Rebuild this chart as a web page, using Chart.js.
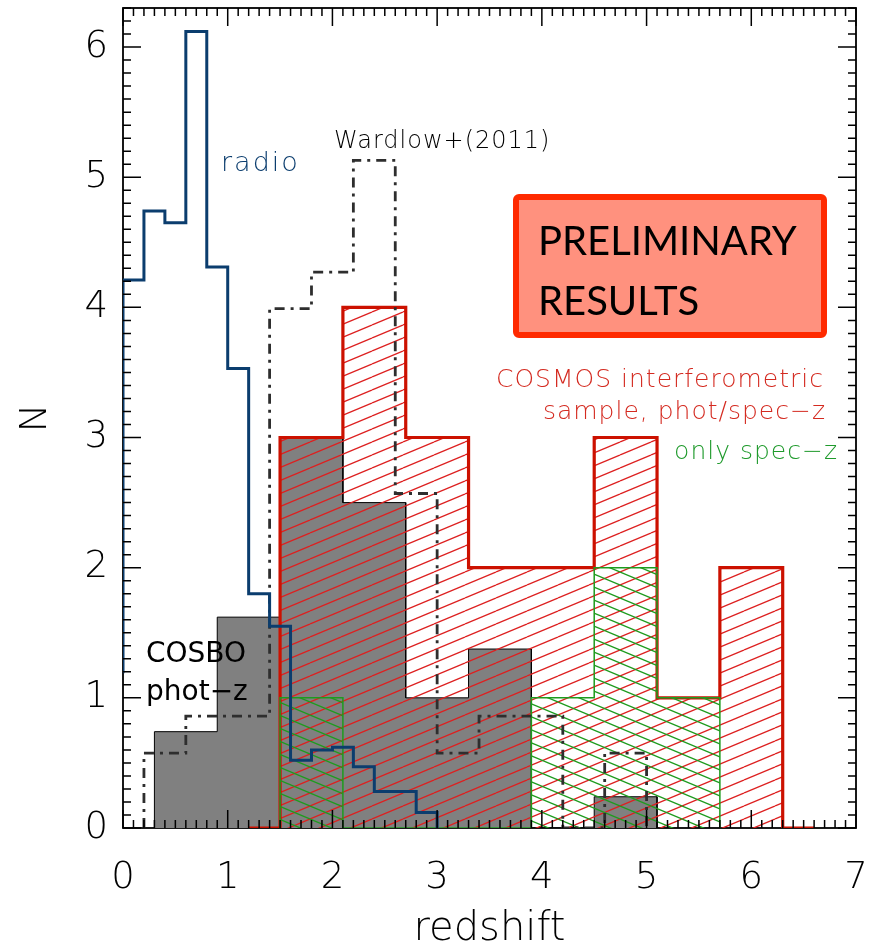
<!DOCTYPE html>
<html><head><meta charset="utf-8">
<script src="https://cdn.jsdelivr.net/npm/chart.js@4/dist/chart.umd.min.js"></script>
<style>html,body{margin:0;padding:0;background:#fff;}#wrap{width:872px;height:945px;position:relative;}</style>
</head><body><div id="wrap"><canvas id="c" width="872" height="945"></canvas></div>
<script>
// ---- data ----
const xTickLabels = ['0','1','2','3','4','5','6','7'];
const yTickLabels = ['0','1','2','3','4','5','6'];

const radioEdges  = [-0.2,0.0,0.2,0.4,0.6,0.8,1.0,1.2,1.4,1.6,1.8,2.0,2.2,2.4,2.6,2.8,3.0];
const radioValues = [1.2,4.21,4.74,4.65,6.12,4.31,3.53,1.80,1.55,0.52,0.60,0.62,0.47,0.28,0.28,0.12];

const wardlowEdges  = [0.2,0.6,1.0,1.4,1.8,2.2,2.6,3.0,3.4,3.8,4.2,4.6,5.0];
const wardlowValues = [0.576,0.86,0.86,3.99,4.27,5.13,2.57,0.576,0.86,0.86,0,0.576];

const cosboEdges  = [0.3,0.9,1.5,2.1,2.7,3.3,3.9,4.5,5.1];
const cosboValues = [0.74,1.62,3.0,2.5,1.0,1.375,0,0.24];

const cosmosEdges  = [1.2,1.5,2.1,2.7,3.3,3.9,4.5,5.1,5.7,6.3,6.6];
const cosmosValues = [0,3,4,3,2,2,3,1,2,0];

const speczEdges  = [1.5,2.1,2.7,3.3,3.9,4.5,5.1,5.7];
const speczValues = [1,0,0,0,1,2,1];

// ---- helpers ----
function stepPoints(edges, values){
  const pts = [{x:edges[0], y:0}];
  for (let i=0;i<values.length;i++){
    pts.push({x:edges[i], y:values[i]});
    pts.push({x:edges[i+1], y:values[i]});
  }
  pts.push({x:edges[edges.length-1], y:0});
  return pts;
}
const mainCtx = document.getElementById('c').getContext('2d');
function hatch(color, dir, lw){
  const W=31, H=13;
  const c=document.createElement('canvas'); c.width=W; c.height=H;
  const g=c.getContext('2d');
  g.strokeStyle=color; g.lineWidth=lw;
  for (const off of [-H,0,H]){
    g.beginPath();
    if (dir>0){ g.moveTo(0,H+off); g.lineTo(W,off); }
    else { g.moveTo(0,off); g.lineTo(W,H+off); }
    g.stroke();
  }
  return mainCtx.createPattern(c,'repeat');
}
const FONT = '"DejaVu Sans", sans-serif';
function noPad(s){ s.paddingLeft=0; s.paddingRight=0; s.paddingTop=0; s.paddingBottom=0; }

const annotations = {
  id:'annotations',
  beforeDatasetsDraw(chart){
    const {ctx, chartArea:a} = chart;
    ctx.save();
    ctx.strokeStyle='#000'; ctx.lineWidth=1.8;
    ctx.strokeRect(a.left,a.top,a.right-a.left,a.bottom-a.top);
    ctx.restore();
  },
  afterDatasetsDraw(chart){
    const {ctx, chartArea:a, scales:{x:xs, y:ys}} = chart;
    ctx.save();
    // ticks on all four sides
    ctx.strokeStyle='#000'; ctx.lineWidth=1.5;
    ctx.beginPath();
    for (let i=0;i<=70;i++){
      const px = xs.getPixelForValue(i/10);
      const len = (i%10===0)?18:8;
      ctx.moveTo(px,a.bottom); ctx.lineTo(px,a.bottom-len);
      ctx.moveTo(px,a.top); ctx.lineTo(px,a.top+len);
    }
    for (let i=0;i<=63;i++){
      const py = ys.getPixelForValue(i/10);
      const len = (i%10===0)?18:8;
      ctx.moveTo(a.left,py); ctx.lineTo(a.left+len,py);
      ctx.moveTo(a.right,py); ctx.lineTo(a.right-len,py);
    }
    ctx.stroke();

    // text labels
    ctx.textBaseline='alphabetic';
    ctx.textAlign='left';
    ctx.letterSpacing='2px';
    ctx.font='300 27px '+FONT; ctx.fillStyle='#0b3d6e';
    ctx.fillText('radio',221,171);
    ctx.letterSpacing='1px';
    ctx.font='200 24px '+FONT; ctx.fillStyle='#000';
    ctx.fillText('Wardlow+(2011)',334,148);
    ctx.font='200 25px '+FONT; ctx.fillStyle='#d42a20';
    ctx.textAlign='right';
    ctx.fillText('COSMOS interferometric',824,387);
    ctx.fillText('sample, phot/spec\u2212z',826,419);
    ctx.fillStyle='#1f9a2c';
    ctx.fillText('only spec\u2212z',838,459);
    ctx.textAlign='left';
    ctx.letterSpacing='0px';
    ctx.font='400 28px '+FONT; ctx.fillStyle='#000';
    ctx.fillText('COSBO',146,662);
    ctx.fillText('phot\u2212z',146,700);

    // PRELIMINARY box
    ctx.lineWidth=6; ctx.strokeStyle='#ff2a00'; ctx.fillStyle='#ff917e';
    ctx.beginPath();
    ctx.roundRect(516,197,308,138,3);
    ctx.fill(); ctx.stroke();
    ctx.fillStyle='#000';
    ctx.font='400 40px Lato, "Noto Sans", sans-serif';
    ctx.fillText('PRELIMINARY',538,255);
    ctx.fillText('RESULTS',538,315);
    ctx.restore();
  }
};

const tickFont = {family:'"DejaVu Sans"', size:37, weight:200};

new Chart(document.getElementById('c'), {
  type:'scatter',
  data:{datasets:[
    {label:'radio', data:stepPoints(radioEdges,radioValues), showLine:true, borderColor:'#0b3d6e', borderWidth:3, pointRadius:0, fill:false, order:1},
    {label:'Wardlow+(2011)', data:stepPoints(wardlowEdges,wardlowValues), showLine:true, borderColor:'#2e2e2e', borderWidth:2.8, borderDash:[10,6,3,6], pointRadius:0, fill:false, order:2},
    {label:'only spec-z', data:stepPoints(speczEdges,speczValues), showLine:true, borderColor:'#1e9b1e', borderWidth:1.5, pointRadius:0, fill:'origin', backgroundColor:hatch('#1e9b1e',-1,1.3), order:3},
    {label:'COSMOS interferometric', data:stepPoints(cosmosEdges,cosmosValues), showLine:true, borderColor:'#cc1100', borderWidth:3.2, pointRadius:0, fill:'origin', backgroundColor:hatch('#dd2020',1,1.3), order:4},
    {label:'COSBO phot-z', data:stepPoints(cosboEdges,cosboValues), showLine:true, borderColor:'#000', borderWidth:1, pointRadius:0, fill:'origin', backgroundColor:'#808080', order:5}
  ]},
  options:{
    responsive:false, animation:false, devicePixelRatio:1,
    layout:{padding:{left:0,right:16,top:8,bottom:0}},
    plugins:{legend:{display:false}, tooltip:{enabled:false}},
    elements:{line:{tension:0, borderJoinStyle:'miter', borderCapStyle:'butt'}},
    scales:{
      x:{type:'linear', min:0, max:7,
         afterFit(s){ s.height=117; noPad(s); },
         grid:{display:false, drawTicks:false}, border:{display:false},
         ticks:{stepSize:1, includeBounds:false, padding:28, color:'#000', font:tickFont, maxRotation:0,
                callback:(v)=>xTickLabels[Math.round(v)]},
         title:{display:true, text:'redshift', color:'#000', font:{family:'"DejaVu Sans"', size:40, weight:200, lineHeight:0.5}, padding:{top:0,bottom:5}}},
      y:{type:'linear', min:0, max:6.3,
         afterFit(s){ s.width=123; noPad(s); },
         grid:{display:false, drawTicks:false}, border:{display:false},
         ticks:{stepSize:1, includeBounds:false, padding:15, color:'#000', font:tickFont,
                callback:(v)=>yTickLabels[Math.round(v)]},
         title:{display:true, text:'N', color:'#000', font:{family:'"DejaVu Sans"', size:38, weight:200}, padding:{top:13,bottom:0}}}
    }
  },
  plugins:[annotations]
});
</script></body></html>
